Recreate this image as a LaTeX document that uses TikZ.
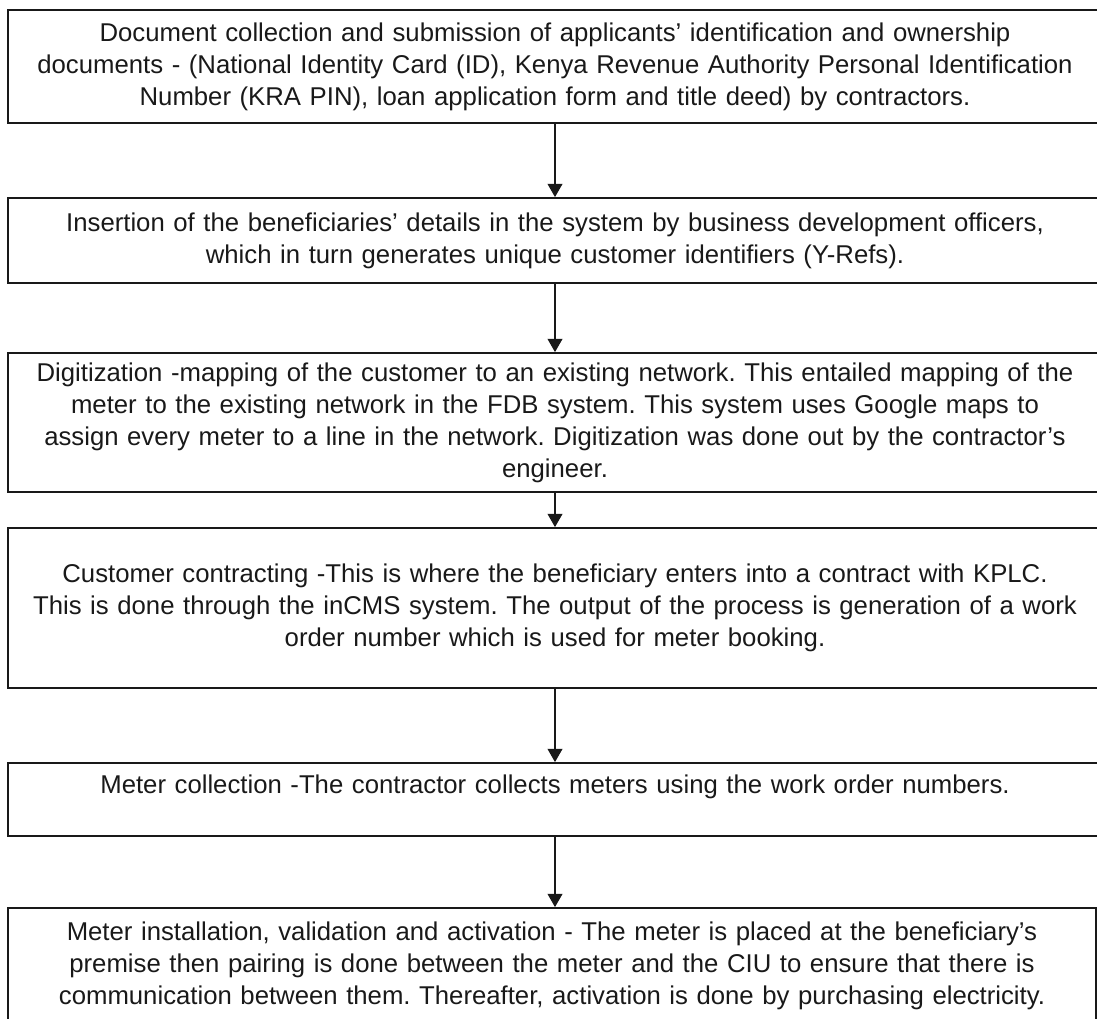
\documentclass[tikz,border=0pt]{standalone}
\usepackage{fontspec}
\setmainfont{Liberation Sans}
\usepackage{xcolor}
\usepackage{tikz}
\usetikzlibrary{arrows.meta}
\frenchspacing
\definecolor{fcInk}{RGB}{25, 25, 25}
\tikzset{
    base/.style={
        font=\fontsize{18.3}{22.8}\selectfont,
        align=center
    },
    stepbox/.style={
        base,
        rectangle,
        draw=fcInk,
        line width=1.3pt,
        text=fcInk,
        text width=27cm,
        inner sep=0pt,
        minimum width=27.35cm
    },
    flow/.style={
        -{Triangle[length=3.3mm, width=3.7mm]},
        line width=0.9pt,
        color=fcInk
    }
}

\begin{document}
\begin{tikzpicture}
  \useasboundingbox (0,0) rectangle (27.425,-25.45);
  \node[stepbox, minimum height=2.825cm] (collect) at (13.875,-1.6625) {Document collection and submission of applicants’ identification and ownership\\documents - (National Identity Card (ID), Kenya Revenue Authority Personal Identification\\Number (KRA PIN), loan application form and title deed) by contractors.};
  \node[stepbox, minimum height=2.125cm] (insert) at (13.875,-6.0125) {Insertion of the beneficiaries’ details in the system by business development officers,\\which in turn generates unique customer identifiers (Y-Refs).};
  \node[stepbox, minimum height=3.475cm] (digitize) at (13.875,-10.5625) {Digitization -mapping of the customer to an existing network. This entailed mapping of the\\meter to the existing network in the FDB system. This system uses Google maps to\\assign every meter to a line in the network. Digitization was done out by the contractor’s\\engineer.};
  \node[stepbox, minimum height=4cm] (contract) at (13.875,-15.2) {Customer contracting -This is where the beneficiary enters into a contract with KPLC.\\This is done through the inCMS system. The output of the process is generation of a work\\order number which is used for meter booking.};
  \node[stepbox, minimum height=1.825cm, text height=0.46cm, text depth=0.78cm] (meters) at (13.875,-19.9875) {Meter collection -The contractor collects meters using the work order numbers.};
  \node[stepbox, minimum width=27.2cm, minimum height=2.9cm] (install) at (13.8,-24.15) {Meter installation, validation and activation - The meter is placed at the beneficiary’s\\premise then pairing is done between the meter and the CIU to ensure that there is\\communication between them. Thereafter, activation is done by purchasing electricity.};

  \draw[flow] (collect) -- (insert);
  \draw[flow] (insert) -- (digitize);
  \draw[flow] (digitize) -- (contract);
  \draw[flow] (contract) -- (meters);
  \draw[flow] (meters.south) -- (meters.south |- install.north);
\end{tikzpicture}
\end{document}
